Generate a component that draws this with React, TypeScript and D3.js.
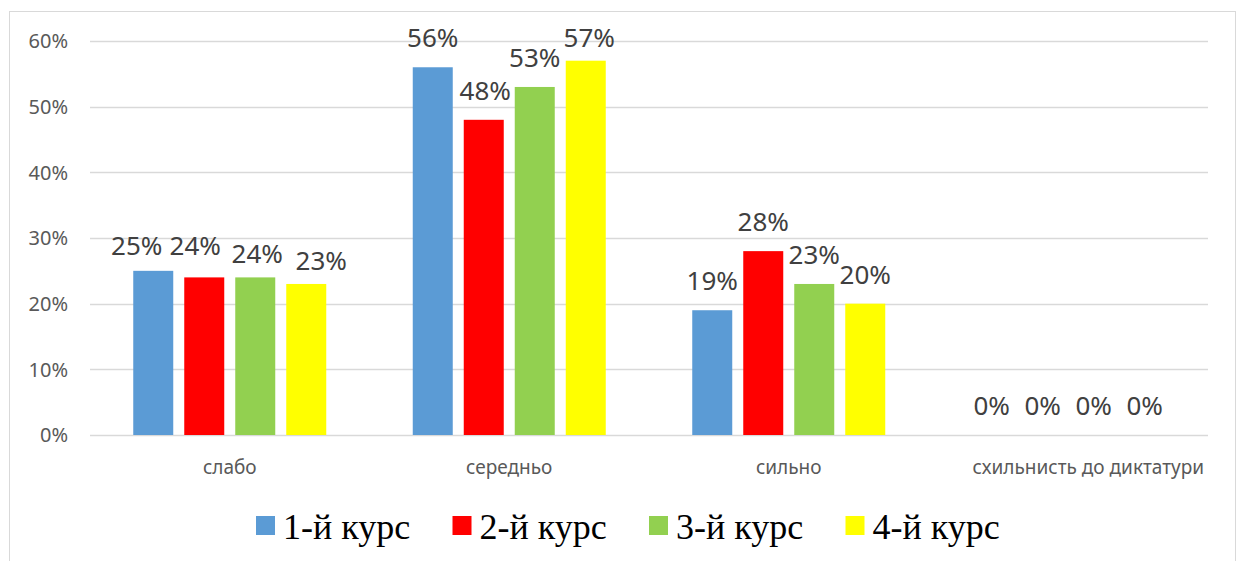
import React, { useEffect, useRef } from 'react';
import * as d3 from 'd3';

const categories = ['слабо', 'середньо', 'сильно', 'схильнисть до диктатури'];
const seriesNames = ['1-й курс', '2-й курс', '3-й курс', '4-й курс'];
const course1 = [0.25, 0.56, 0.19, 0];
const course2 = [0.24, 0.48, 0.28, 0];
const course3 = [0.24, 0.53, 0.23, 0];
const course4 = [0.23, 0.57, 0.2, 0];
const yTicks = [0, 0.1, 0.2, 0.3, 0.4, 0.5, 0.6];
const colors = ['#5b9bd5', '#ff0000', '#92d050', '#ffff00'];

// hand-moved data labels (like in the original spreadsheet), [dx, dy]
const labelNudge: Record<string, [number, number]> = {
  'слабо|1-й курс': [-16.5, 4],
  'слабо|2-й курс': [-9, -2],
  'слабо|3-й курс': [2, 5.5],
  'слабо|4-й курс': [15, 6],
  'середньо|2-й курс': [1.5, 0],
  'середньо|4-й курс': [3.5, 6],
};

const App = () => {
  const chartRef = useRef<SVGSVGElement>(null);

  useEffect(() => {
    const svg = d3.select(chartRef.current);
    svg.selectAll('*').remove();
    const width = 1240;
    const height = 561;
    const margin = { top: 41, right: 32, bottom: 126, left: 90 };
    const sansFont = "'Noto Sans', 'DejaVu Sans', sans-serif";

    const allSeries = [course1, course2, course3, course4];

    // chart border
    svg.append('rect')
      .attr('x', 9.5)
      .attr('y', 11.5)
      .attr('width', 1226)
      .attr('height', 570)
      .attr('fill', '#fff')
      .attr('stroke', '#d9d9d9');

    const x0 = d3.scaleBand()
      .domain(categories)
      .range([margin.left, width - margin.right]);

    const x1 = d3.scaleBand()
      .domain(seriesNames)
      .range([-96.5, 96.5])
      .paddingInner(11 / 51);

    const y = d3.scaleLinear()
      .domain([0, 0.6])
      .range([height - margin.bottom, margin.top]);

    const fmt = d3.format('.0%');

    // gridlines
    svg.append('g')
      .selectAll('line')
      .data(yTicks)
      .join('line')
      .attr('x1', margin.left)
      .attr('x2', width - margin.right)
      .attr('y1', d => Math.round(y(d)) + 0.5)
      .attr('y2', d => Math.round(y(d)) + 0.5)
      .attr('stroke', '#d9d9d9')
      .attr('stroke-width', 1.3);

    // y tick labels
    svg.append('g')
      .selectAll('text')
      .data(yTicks)
      .join('text')
      .attr('x', 68)
      .attr('y', d => y(d))
      .attr('dy', '0.36em')
      .attr('text-anchor', 'end')
      .attr('font-family', sansFont)
      .attr('font-size', 20)
      .attr('fill', '#595959')
      .text(d => fmt(d));

    // bars
    const groups = svg.append('g')
      .selectAll('g')
      .data(allSeries)
      .join('g')
      .attr('fill', (d, i) => colors[i]);

    const cells = (d: number[], i: number) =>
      d.map((v, j) => ({ v, cat: categories[j], s: seriesNames[i] }));

    groups.selectAll('rect')
      .data(cells)
      .join('rect')
      .attr('x', d => x0(d.cat)! + x0.bandwidth() / 2 + x1(d.s)!)
      .attr('y', d => y(d.v))
      .attr('width', x1.bandwidth())
      .attr('height', d => y(0) - y(d.v));

    // data labels
    groups.selectAll('text')
      .data(cells)
      .join('text')
      .attr('x', d => {
        const n = labelNudge[`${d.cat}|${d.s}`] || [0, 0];
        return x0(d.cat)! + x0.bandwidth() / 2 + x1(d.s)! + x1.bandwidth() / 2 + n[0];
      })
      .attr('y', d => {
        const n = labelNudge[`${d.cat}|${d.s}`] || [0, 0];
        return y(d.v) - 20 + n[1];
      })
      .attr('text-anchor', 'middle')
      .attr('font-family', sansFont)
      .attr('font-size', 26)
      .attr('fill', '#404040')
      .text(d => fmt(d.v));

    // category labels (last one sits a bit to the right in the original)
    svg.append('g')
      .selectAll('text')
      .data(categories)
      .join('text')
      .attr('x', (d, i) => x0(d)! + x0.bandwidth() / 2 + (i === 3 ? 20 : 0))
      .attr('y', 474)
      .attr('text-anchor', 'middle')
      .attr('font-family', sansFont)
      .attr('font-size', 19)
      .attr('fill', '#595959')
      .text(d => d);

    // legend
    const legend = svg.append('g')
      .selectAll('g')
      .data(seriesNames)
      .join('g')
      .attr('transform', (d, i) => `translate(${256 + i * 196.5},0)`);

    legend.append('rect')
      .attr('x', 0)
      .attr('y', 516)
      .attr('width', 19)
      .attr('height', 19)
      .attr('fill', (d, i) => colors[i]);

    legend.append('text')
      .attr('x', 27)
      .attr('y', 539)
      .attr('font-family', "'Liberation Serif', 'Times New Roman', serif")
      .attr('font-size', 36)
      .attr('fill', '#000')
      .text(d => d);
  }, []);

  return (
    <svg
      ref={chartRef}
      width={1240}
      height={561}
      style={{ position: 'absolute', left: 0, top: 0, background: '#fff' }}
    ></svg>
  );
};

export default App;
